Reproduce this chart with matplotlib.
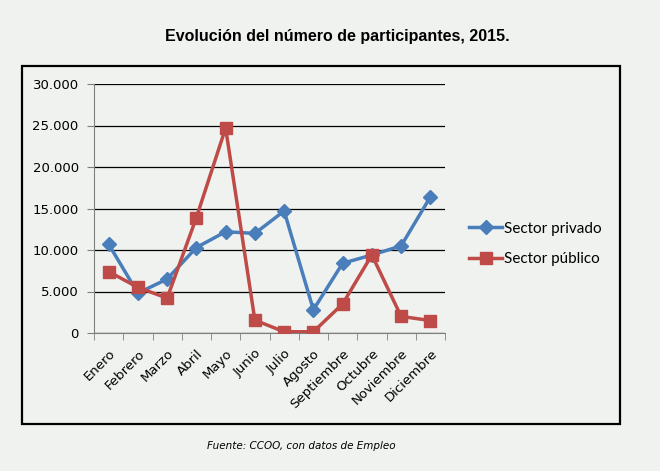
import numpy as np
import matplotlib.pyplot as plt
from matplotlib.patches import Rectangle
from matplotlib.ticker import FuncFormatter, FixedLocator

MESES = ["Enero", "Febrero", "Marzo", "Abril", "Mayo", "Junio", "Julio",
         "Agosto", "Septiembre", "Octubre", "Noviembre", "Diciembre"]
PRIVADO = [10700, 4800, 6500, 10300, 12200, 12000, 14700, 2800, 8400, 9400, 10500, 16400]
PUBLICO = [7400, 5500, 4200, 13900, 24700, 1550, 150, 150, 3500, 9400, 2000, 1500]

BG = "#f0f2ef"
BLUE = "#4a7ebb"
RED = "#be4b48"

fig = plt.figure(figsize=(6.6, 4.71), dpi=100, facecolor=BG)
# outer frame of the chart
fig.patches.append(Rectangle((22/660, 1-424/471), (620-22)/660, (424-66)/471,
                             transform=fig.transFigure, fill=False,
                             edgecolor="black", linewidth=1.6))

ax = fig.add_axes([94/660, 1-333/471, (445-94)/660, (333-84)/471])
ax.set_facecolor(BG)

x = np.arange(len(MESES))
ax.plot(x, PRIVADO, color=BLUE, lw=2.5, marker="D", ms=7, label="Sector privado", zorder=3)
ax.plot(x, PUBLICO, color=RED, lw=2.5, marker="s", ms=8.5, label="Sector público", zorder=4)

ax.set_xlim(-0.5, len(MESES) - 0.5)
ax.set_ylim(0, 30000)
ax.set_yticks(range(0, 30001, 5000))
ax.yaxis.set_major_formatter(FuncFormatter(lambda v, p: f"{int(v):,}".replace(",", ".")))
ax.yaxis.grid(True, color="black", lw=0.9)
ax.set_axisbelow(True)

ax.set_xticks(x)
ax.set_xticklabels(MESES, rotation=45, ha="right", rotation_mode="anchor")
ax.xaxis.set_minor_locator(FixedLocator(np.arange(-0.5, len(MESES), 1)))
ax.tick_params(axis="x", which="major", length=0, pad=10, labelsize=9.5)
ax.tick_params(axis="x", which="minor", length=5, color="#7f7f7f")
ax.tick_params(axis="y", length=5, color="#7f7f7f", labelsize=9.5, pad=6)

for s in ["top", "right"]:
    ax.spines[s].set_visible(False)
for s in ["left", "bottom"]:
    ax.spines[s].set_color("#7f7f7f")

ax.legend(loc="center left", bbox_to_anchor=(455/660, 1-244/471),
          bbox_transform=fig.transFigure, frameon=False,
          prop={"family": "Lato", "size": 11}, handlelength=2.2,
          handletextpad=0.1, labelspacing=1.1)

fig.text(337/660, 1-37/471, "Evolución del número de participantes, 2015.",
         ha="center", va="center", fontsize=11.5, fontweight="bold",
         family="Liberation Sans")
fig.text(301/660, 1-446/471, "Fuente: CCOO, con datos de Empleo",
         ha="center", va="center", fontsize=7.5, style="italic")

fig.savefig("out.png", dpi=100, facecolor=BG)
